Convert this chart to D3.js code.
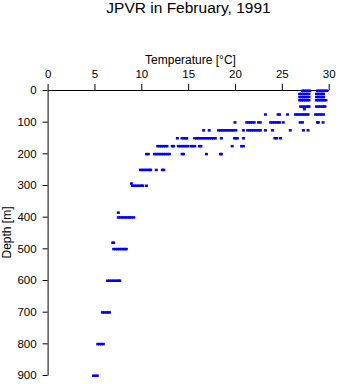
<!DOCTYPE html>
<html><head><meta charset="utf-8">
<script src="https://cdn.jsdelivr.net/npm/d3@7"></script>
<style>
body{margin:0;background:#fff;}
svg{display:block;font-family:"Liberation Sans",Arial,Helvetica,sans-serif;}
</style></head><body>
<svg id="chart" width="341" height="384"></svg>
<script>
const title = "JPVR in February, 1991";
const xLabel = "Temperature [°C]";
const yLabel = "Depth [m]";
const xTicks = [0, 5, 10, 15, 20, 25, 30];
const yTicks = [0, 100, 200, 300, 400, 500, 600, 700, 800, 900];

// depth levels (m) and the temperatures (°C) observed at each level
const depths = [0, 10, 20, 30, 50, 58, 75, 100, 125, 150, 175, 200, 250, 293, 300, 385, 400, 480, 500, 600, 700, 800, 900];
const temps = [
  [27.2, 27.4, 27.6, 27.8, 28.0, 28.8, 29.0, 29.2, 29.4, 29.6, 29.8],
  [26.9, 27.1, 27.3, 27.5, 27.7, 27.9, 28.7, 28.9, 29.1, 29.3, 29.45],
  [26.9, 27.1, 27.3, 27.5, 27.7, 27.9, 28.7, 28.9, 29.1, 29.3, 29.45],
  [26.9, 27.1, 27.3, 27.5, 27.7, 27.9, 28.7, 28.9, 29.1, 29.3, 29.5, 29.7],
  [27.0, 27.2, 27.4, 27.6, 27.8, 27.9, 28.7, 28.9, 29.1, 29.3, 29.5, 29.6],
  [27.4],
  [23.25, 24.6, 24.75, 25.6, 26.45, 26.65, 26.85, 27.05, 27.25, 27.45, 27.65, 27.8, 28.6, 28.8, 29.0, 29.2, 29.45],
  [20.0, 21.25, 21.45, 21.65, 21.85, 22.05, 22.5, 22.7, 23.8, 24.0, 24.2, 24.4, 24.6, 24.75, 25.15, 26.95, 27.2, 28.8, 28.9, 29.4],
  [16.65, 17.25, 18.25, 18.45, 18.65, 18.85, 19.05, 19.25, 19.45, 19.65, 19.85, 20.1, 20.9, 21.35, 21.55, 21.75, 21.95, 22.15, 22.35, 22.55, 22.7, 23.25, 24.0, 25.9, 27.3, 27.8],
  [13.85, 14.35, 14.55, 14.75, 14.85, 15.7, 15.9, 16.1, 16.3, 16.5, 16.7, 16.9, 17.1, 17.3, 17.5, 17.7, 17.9, 18.55, 19.95, 20.1, 20.25, 20.9, 24.25, 24.45, 24.85],
  [11.75, 11.95, 12.15, 12.35, 12.55, 12.75, 13.3, 13.45, 13.95, 14.15, 14.35, 14.55, 14.75, 14.95, 15.3, 15.5, 15.7, 16.2, 16.35, 19.7, 20.7, 20.9],
  [10.55, 10.75, 11.4, 11.6, 11.8, 12.0, 12.2, 12.4, 12.6, 12.8, 13.0, 14.35, 14.5, 16.95, 18.45, 18.55],
  [9.9, 10.1, 10.3, 10.5, 10.7, 10.9, 11.0, 11.6, 12.25, 12.4],
  [8.95],
  [9.05, 9.25, 9.45, 9.65, 9.85, 10.05, 10.15, 10.55],
  [7.55],
  [7.55, 7.75, 7.95, 8.15, 8.35, 8.55, 8.75, 8.95, 9.2],
  [6.95, 7.05],
  [7.05, 7.25, 7.45, 7.65, 7.85, 8.05, 8.25, 8.4],
  [6.4, 6.6, 6.8, 7.0, 7.2, 7.4, 7.6, 7.7],
  [5.85, 6.05, 6.25, 6.45, 6.6],
  [5.35, 5.55, 5.75, 5.95],
  [4.9, 5.1, 5.3]
];

const points = [];
depths.forEach((d, i) => temps[i].forEach(t => points.push({t, d})));

const svg = d3.select("#chart");
svg.append("rect").attr("width", 341).attr("height", 384).attr("fill", "#fff");

const x = d3.scaleLinear().domain([0, 30]).range([47.6, 328.7]);
const y = d3.scaleLinear().domain([0, 900]).range([90, 375]);

// title
svg.append("text").attr("x", 188.5).attr("y", 12.5).attr("text-anchor", "middle")
  .attr("font-size", 15.5).attr("fill", "#000").text(title);

// x axis (top)
const gx = svg.append("g").attr("transform", `translate(0,${y(0)})`)
  .call(d3.axisTop(x).tickValues(xTicks).tickSize(6).tickSizeOuter(0).tickPadding(6));
gx.selectAll("text").attr("font-size", 11.5).attr("font-family", "Liberation Sans, Arial, sans-serif").attr("fill", "#000");
gx.selectAll("line,path").attr("stroke", "#000");

svg.append("text").attr("x", 190.5).attr("y", 64).attr("text-anchor", "middle")
  .attr("font-size", 12).attr("fill", "#000").text(xLabel);

// y axis (left)
const gy = svg.append("g").attr("transform", `translate(${x(0)},0)`)
  .call(d3.axisLeft(y).tickValues(yTicks).tickSize(5).tickSizeOuter(0).tickPadding(6));
gy.selectAll("text").attr("font-size", 11.5).attr("font-family", "Liberation Sans, Arial, sans-serif").attr("fill", "#000");
gy.selectAll("line,path").attr("stroke", "#000");

svg.append("text").attr("transform", `translate(10.5,232.5) rotate(-90)`)
  .attr("text-anchor", "middle").attr("font-size", 12).attr("fill", "#000").text(yLabel);

// points
svg.append("g").selectAll("rect.pt").data(points).join("rect").attr("class", "pt")
  .attr("x", p => x(p.t) - 1.5).attr("y", p => y(p.d) - 0.5)
  .attr("width", 3).attr("height", 2.5).attr("fill", "#0000ff");
</script>
</body></html>
